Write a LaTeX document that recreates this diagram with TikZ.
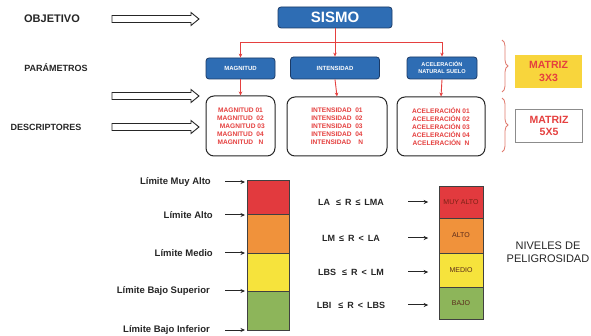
\documentclass[tikz,border=0pt]{standalone}
\usepackage{fontspec}
\setmainfont{Liberation Sans}
\usetikzlibrary{arrows.meta,decorations.pathreplacing}
\definecolor{bluef}{HTML}{2E6DB4}
\definecolor{blued}{HTML}{1B3A66}
\definecolor{redt}{HTML}{E5403F}
\definecolor{bracec}{HTML}{E07A6E}
\definecolor{yel}{HTML}{F8D53C}
\definecolor{cRed}{HTML}{E23A3E}
\definecolor{cOra}{HTML}{F0923B}
\definecolor{cYel}{HTML}{F6E33C}
\definecolor{cGre}{HTML}{8DB55A}
\definecolor{txt}{HTML}{262626}
\definecolor{celltxt}{HTML}{5A2A1A}
\newcommand\hollowarrow[3]{%
  \draw[harrow] (#1,#3-3.5) -- (#2-8,#3-3.5) -- (#2-8,#3-6.5) -- (#2,#3)
    -- (#2-8,#3+6.5) -- (#2-8,#3+3.5) -- (#1,#3+3.5) -- cycle;}
\begin{document}
\begin{tikzpicture}[x=1pt,y=-1pt,
  lbl/.style={font=\bfseries\fontsize{9}{10}\selectfont,text=txt,inner sep=0pt},
  bluebox/.style={draw=blued,line width=0.8pt,fill=bluef,rounded corners=3pt,text=white,font=\bfseries\fontsize{6}{7}\selectfont,align=center,inner sep=0pt},
  descbox/.style={draw=txt,line width=1pt,rounded corners=8pt,text=redt,font=\bfseries\fontsize{6.6}{7.9}\selectfont,align=center,inner sep=0pt},
  redline/.style={draw=redt,line width=0.9pt},
  redarr/.style={redline,-{Stealth[length=4pt,width=3.5pt]}},
  harrow/.style={draw=txt,line width=0.9pt,fill=white},
  barr/.style={draw=txt,line width=1pt,-{Stealth[length=4.5pt,width=4pt]}},
  cell/.style={draw=black!75,line width=0.8pt,minimum width=44pt,inner sep=0pt,font=\fontsize{7}{8}\selectfont,text=celltxt},
  bar/.style={draw=black!75,line width=0.8pt},
  brc/.style={draw=bracec,line width=0.8pt,decorate,decoration={brace,amplitude=6pt}},
  ineq/.style={font=\bfseries\fontsize{9}{10}\selectfont,text=txt,inner sep=0pt,text width=82pt,align=center},
  matriz/.style={font=\bfseries\fontsize{10.5}{12.5}\selectfont,text=redt,align=center,inner sep=0pt,minimum width=67pt,minimum height=33pt}
]
\useasboundingbox (0,0) rectangle (591,336);
\fill[white] (0,0) rectangle (591,336);

% left labels
\node[lbl,font=\bfseries\fontsize{11}{12}\selectfont] (obj) at (52,19) {OBJETIVO};
\node[lbl] (par) at (56,68) {PARÁMETROS};
\node[lbl] (des) at (46,127) {DESCRIPTORES};

% hollow arrows
\hollowarrow{112}{199}{19}
\hollowarrow{112}{199}{96}
\hollowarrow{112}{199}{127}

% SISMO and parameters
\node[bluebox,font=\bfseries\fontsize{15}{16}\selectfont,minimum width=114pt,minimum height=21pt] (sismo) at (335,17.5) {SISMO};
\node[bluebox,minimum width=69pt,minimum height=21pt] (mag) at (240.5,68.5) {MAGNITUD};
\node[bluebox,minimum width=89pt,minimum height=22pt] (int) at (335,68) {INTENSIDAD};
\node[bluebox,font=\bfseries\fontsize{5.6}{7}\selectfont,minimum width=70pt,minimum height=22pt] (acel) at (442,68) {ACELERACIÓN\\NATURAL SUELO};

\coordinate (j) at (335,42);
\draw[redline] (sismo.south) -- (j);
\draw[redarr] (j) -| (mag.north);
\draw[redarr] (j) -- (int.north);
\draw[redarr] (j) -| (acel.north);

% descriptors
\node[descbox,minimum width=69pt,minimum height=60pt] (dmag) at (240.5,126) {MAGNITUD 01\\MAGNITUD \ 02\\\ \ MAGNITUD 03\\MAGNITUD \ 04\\MAGNITUD \ \ N};
\node[descbox,minimum width=100pt,minimum height=59pt] (dint) at (337,126.5) {INTENSIDAD \ 01\\INTENSIDAD \ 02\\INTENSIDAD \ 03\\INTENSIDAD \ 04\\INTENSIDAD \ \ \ N};
\node[descbox,minimum width=88pt,minimum height=59pt] (dacel) at (441,126.5) {ACELERACIÓN 01\\ACELERACIÓN 02\\ACELERACIÓN 03\\ACELERACIÓN 04\\ACELERACIÓN \ N};
\draw[redarr] (mag.south) -- (dmag.north);
\draw[redarr] (int.south) -- (dint.north);
\draw[redarr] (acel.south) -- (dacel.north);

% braces and matrices
\draw[brc] (502,40) -- (502,92);
\draw[brc] (502,98) -- (502,152);
\node[matriz,fill=yel] (m3) at (548.5,71.5) {MATRIZ\\3X3};
\node[matriz,draw=black!45,line width=0.8pt,fill=white] (m5) at (549,126) {MATRIZ\\5X5};

% left colour bar
\draw[bar,fill=cRed] (247,180) rectangle (289,214);
\draw[bar,fill=cOra] (247,214) rectangle (289,253);
\draw[bar,fill=cYel] (247,253) rectangle (289,291);
\draw[bar,fill=cGre] (247,291) rectangle (289,330);

\node[lbl,font=\bfseries\fontsize{9.5}{10}\selectfont,anchor=east] (l1) at (211,182) {Límite Muy Alto};
\node[lbl,font=\bfseries\fontsize{9.5}{10}\selectfont,anchor=east] (l2) at (213,215) {Límite Alto};
\node[lbl,font=\bfseries\fontsize{9.5}{10}\selectfont,anchor=east] (l3) at (213,253) {Límite Medio};
\node[lbl,font=\bfseries\fontsize{9.5}{10}\selectfont,anchor=east] (l4) at (210,291) {Límite Bajo Superior};
\node[lbl,font=\bfseries\fontsize{9.5}{10}\selectfont,anchor=east] (l5) at (210,330) {Límite Bajo Inferior};
\coordinate (t1) at (245,182);
\coordinate (t2) at (245,215);
\coordinate (t3) at (245,253);
\coordinate (t4) at (245,291);
\coordinate (t5) at (245,330);
\draw[barr] (225,182) -- (t1);
\draw[barr] (225,215) -- (t2);
\draw[barr] (225,253) -- (t3);
\draw[barr] (225,291) -- (t4);
\draw[barr] (225,330) -- (t5);

% right levels
\node[cell,fill=cRed,minimum height=32pt,text=celltxt!80!red] (c1) at (461,202) {MUY ALTO};
\node[cell,fill=cOra,minimum height=35pt] (c2) at (461,235.5) {ALTO};
\node[cell,fill=cYel,minimum height=34pt] (c3) at (461,270) {MEDIO};
\node[cell,fill=cGre,minimum height=32pt] (c4) at (461,303) {BAJO};

\node[ineq] (q1) at (351,202) {LA\hspace{6pt}≤\hspace{4pt}R\hspace{4pt}≤\hspace{4pt}LMA};
\node[ineq] (q2) at (351,238) {LM\hspace{4pt}≤\hspace{4pt}R\hspace{4pt}<\hspace{4pt}LA};
\node[ineq] (q3) at (351,272) {LBS\hspace{6pt}≤\hspace{4pt}R\hspace{4pt}<\hspace{4pt}LM};
\node[ineq] (q4) at (351,305) {LBI\hspace{7pt}≤\hspace{4pt}R\hspace{4pt}<\hspace{4pt}LBS};
\draw[barr] ([xshift=16pt]q1.east) -- ([xshift=36pt]q1.east);
\draw[barr] ([xshift=16pt]q2.east) -- ([xshift=36pt]q2.east);
\draw[barr] ([xshift=16pt]q3.east) -- ([xshift=36pt]q3.east);
\draw[barr] ([xshift=16pt]q4.east) -- ([xshift=36pt]q4.east);

\node[font=\fontsize{11}{13}\selectfont,text=txt,align=center,inner sep=0pt] (niv) at (548,252.5) {NIVELES DE\\PELIGROSIDAD};
\end{tikzpicture}
\end{document}
